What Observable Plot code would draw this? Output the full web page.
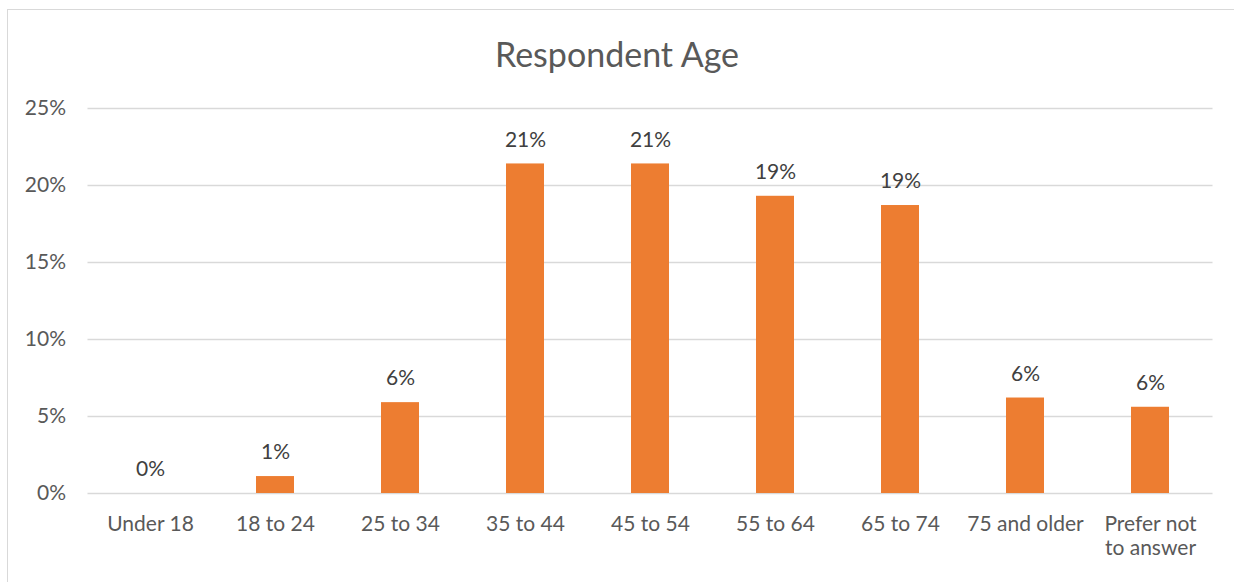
<!DOCTYPE html>
<html><head><meta charset="utf-8">
<script src="https://cdn.jsdelivr.net/npm/d3@7"></script>
<script src="https://cdn.jsdelivr.net/npm/@observablehq/plot@0.6"></script>
<style>
html,body{margin:0;padding:0;background:#fff;width:1234px;height:582px;overflow:hidden;}
#frame{position:absolute;left:7px;top:9px;width:1240px;height:600px;border:1.5px solid #d9d9d9;box-sizing:border-box;}
#title{position:absolute;left:0;top:0;width:1234px;height:90px;text-align:center;font-family:Lato,"Open Sans",sans-serif;font-size:34px;color:#595959;line-height:108px;}
#chart{position:absolute;left:0;top:90px;}
</style></head>
<body>
<div id="frame"></div>
<div id="title">Respondent Age</div>
<div id="chart"></div>
<script>
const categories = ["Under 18","18 to 24","25 to 34","35 to 44","45 to 54","55 to 64","65 to 74","75 and older","Prefer not\nto answer"];
const values = [0.0, 1.1, 5.9, 21.4, 21.4, 19.3, 18.7, 6.2, 5.6];
const labels = ["0%","1%","6%","21%","21%","19%","19%","6%","6%"];
const yTicks = [0,5,10,15,20,25];

const data = categories.map((c,i)=>({cat:c, v:values[i], lab:labels[i]}));
const font = "Lato, 'Open Sans', sans-serif";
const plot = Plot.plot({
  width:1234, height:492,
  marginLeft:87.5, marginRight:21.5, marginTop:18, marginBottom:89,
  style:{fontFamily:font, fontSize:"21px", color:"#595959", background:"transparent"},
  x:{domain:categories, paddingInner:0.696, paddingOuter:0.348, label:null},
  y:{domain:[0,25], label:null},
  marks:[
    Plot.gridY(yTicks,{stroke:"#d9d9d9", strokeOpacity:1, strokeWidth:1.5}),
    Plot.barY(data,{x:"cat", y:"v", fill:"#ED7D31"}),
    Plot.text(data,{x:"cat", y:"v", text:"lab", dy:-24, fill:"#404040", fontSize:21}),
    Plot.axisX({tickSize:0, tickPadding:20, fontSize:21, fill:"#595959", lineHeight:1.15}),
    Plot.axisY(yTicks,{tickSize:0, tickPadding:22, fontSize:21, fill:"#595959", tickFormat:d=>d+"%"})
  ]
});
document.getElementById("chart").appendChild(plot);
</script>
</body></html>
